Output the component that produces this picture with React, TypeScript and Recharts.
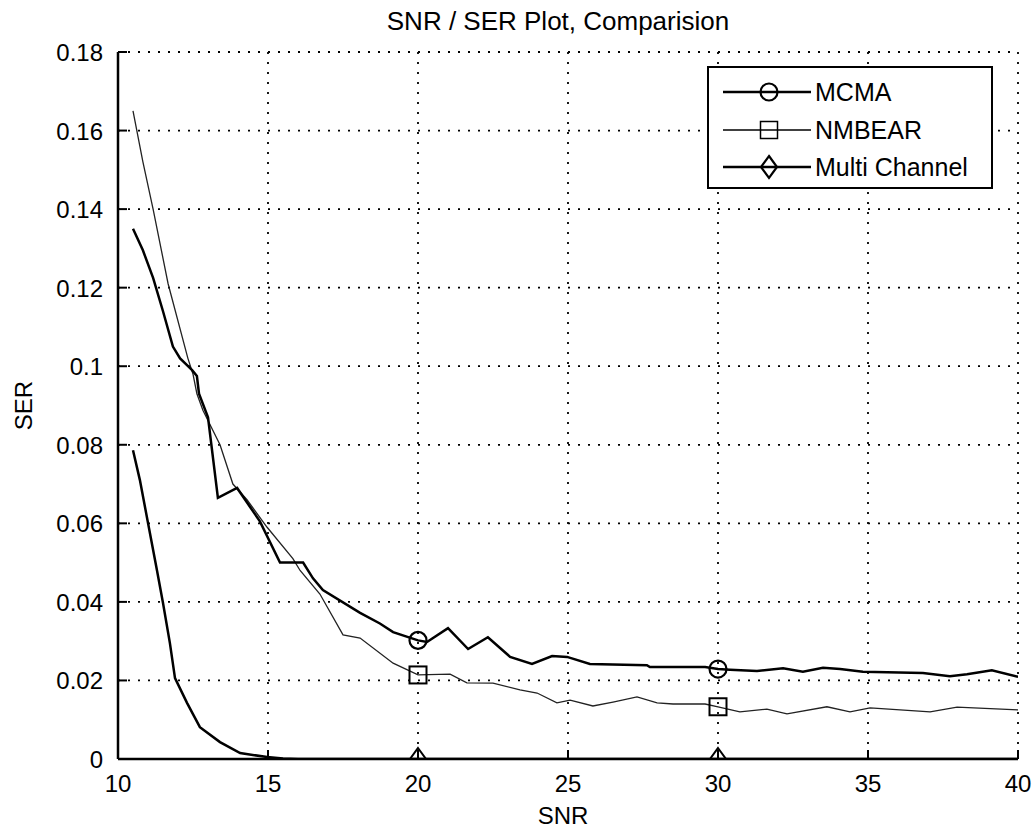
import React from 'react';
import { LineChart, Line, XAxis, YAxis, CartesianGrid, Legend } from 'recharts';

// ---------- data ----------
const mcmaX = [10.5, 10.83, 11.17, 11.5, 11.83, 12.07, 12.47, 12.63, 12.7, 13.0, 13.33, 13.97, 14.73, 15.4, 16.17, 16.5, 16.83, 18.07, 18.73, 19.17, 20, 20.3, 21, 21.67, 22.33, 23.07, 23.8, 24.47, 24.97, 25.73, 27.63, 27.73, 29.57, 30, 30.4, 31.3, 32.17, 32.83, 33.5, 34.07, 34.83, 36.83, 37.73, 38.3, 39.13, 40];
const mcmaY = [0.135, 0.1295, 0.1225, 0.114, 0.105, 0.102, 0.099, 0.0975, 0.093, 0.087, 0.0665, 0.069, 0.0605, 0.05, 0.05, 0.046, 0.043, 0.0372, 0.0345, 0.0323, 0.0302, 0.0298, 0.0333, 0.028, 0.031, 0.026, 0.0242, 0.0262, 0.026, 0.0242, 0.0239, 0.0234, 0.0234, 0.0229, 0.0227, 0.0224, 0.0231, 0.0222, 0.0232, 0.0229, 0.0222, 0.0219, 0.0211, 0.0216, 0.0226, 0.0209];

const nmbearX = [10.5, 10.83, 11.17, 11.67, 12.33, 12.5, 12.63, 12.83, 13.4, 13.83, 14.3, 14.97, 15.83, 16.07, 16.73, 17.5, 18.07, 19.17, 20, 21.07, 21.63, 22.5, 23.4, 23.97, 24.63, 25.07, 25.83, 26.5, 27.3, 27.97, 28.5, 29.57, 30, 30.73, 31.63, 32.3, 33.63, 34.4, 35.07, 37.07, 37.97, 40];
const nmbearY = [0.165, 0.152, 0.14, 0.121, 0.102, 0.098, 0.093, 0.0888, 0.08, 0.07, 0.066, 0.059, 0.051, 0.048, 0.042, 0.0316, 0.0308, 0.0244, 0.0214, 0.0216, 0.0194, 0.0193, 0.0176, 0.0168, 0.0143, 0.015, 0.0135, 0.0145, 0.0158, 0.0143, 0.014, 0.014, 0.0133, 0.012, 0.0127, 0.0115, 0.0133, 0.012, 0.013, 0.012, 0.0132, 0.0125];

const multiX = [10.5, 10.73, 11.3, 11.5, 11.73, 11.9, 12.3, 12.73, 13.4, 14.07, 14.97, 15.5, 16, 20, 30, 40];
const multiY = [0.0786, 0.071, 0.048, 0.0397, 0.0295, 0.0206, 0.0143, 0.0081, 0.0043, 0.0015, 0.0005, 0.0001, 0, 0, 0, 0];

const markerXs = [20, 30];
const xTicks = [10, 15, 20, 25, 30, 35, 40];
const yTicks = [0, 0.02, 0.04, 0.06, 0.08, 0.1, 0.12, 0.14, 0.16, 0.18];

const seriesNames = ['MCMA', 'NMBEAR', 'Multi Channel'];
const chartTitle = 'SNR / SER Plot, Comparision';
const xLabel = 'SNR';
const yLabel = 'SER';

const zip = (xs: number[], ys: number[]) => xs.map((x, i) => ({ x, y: ys[i] }));
const mcmaData = zip(mcmaX, mcmaY);
const nmbearData = zip(nmbearX, nmbearY);
const multiData = zip(multiX, multiY);

// ---------- styles ----------
const FONT = '"Liberation Sans", Arial, Helvetica, sans-serif';
const W = 1035;
const H = 830;
const TICK = 9;
const PLOT_BOTTOM = 759;

type Shape = 'circle' | 'square' | 'diamond';

const markerShape = (shape: Shape, cx: number, cy: number, sw: number, clip?: string) => {
  if (shape === 'circle') return <circle cx={cx} cy={cy} r={8.5} fill="none" stroke="#000" strokeWidth={sw} />;
  if (shape === 'square') return <rect x={cx - 8.5} y={cy - 8.5} width={17} height={17} fill="none" stroke="#000" strokeWidth={sw} />;
  return (
    <polygon
      points={`${cx},${cy - 11} ${cx + 8},${cy} ${cx},${cy + 11} ${cx - 8},${cy}`}
      fill="none"
      stroke="#000"
      strokeWidth={sw}
      clipPath={clip}
    />
  );
};

const makeDot = (shape: Shape, sw: number) => (props: any) => {
  const { cx, cy, payload, index } = props;
  if (!markerXs.includes(payload.x) || cx == null || cy == null) return <g key={`d-${index}`} />;
  const id = `mclip-${shape}-${index}`;
  return (
    <g key={`d-${index}`}>
      <defs>
        <clipPath id={id}>
          <rect x={0} y={0} width={W} height={PLOT_BOTTOM} />
        </clipPath>
      </defs>
      {markerShape(shape, cx, cy, sw, `url(#${id})`)}
    </g>
  );
};

const XBottomTick = (props: any) => {
  const { x, y, payload } = props;
  return (
    <g>
      <line x1={x} x2={x} y1={y} y2={y - TICK} stroke="#000" strokeWidth={2} />
      <text x={x} y={y + 33} textAnchor="middle" fontFamily={FONT} fontSize={24} fill="#000">
        {payload.value}
      </text>
    </g>
  );
};

const XTopTick = (props: any) => {
  const { x, y } = props;
  return <line x1={x} x2={x} y1={y} y2={y + TICK} stroke="#000" strokeWidth={2} />;
};

const YLeftTick = (props: any) => {
  const { x, y, payload } = props;
  return (
    <g>
      <line x1={x} x2={x + TICK} y1={y} y2={y} stroke="#000" strokeWidth={2} />
      <text x={x - 15} y={y + 9} textAnchor="end" fontFamily={FONT} fontSize={24} fill="#000">
        {String(+Number(payload.value).toFixed(2))}
      </text>
    </g>
  );
};

const YRightTick = (props: any) => {
  const { x, y } = props;
  return <line x1={x} x2={x - TICK} y1={y} y2={y} stroke="#000" strokeWidth={2} />;
};

const XAxisLabel = (props: any) => {
  const vb = props.viewBox || {};
  const cx = (vb.x ?? 118) + (vb.width ?? 900) / 2 - 5;
  return (
    <text x={cx} y={824} textAnchor="middle" fontFamily={FONT} fontSize={24} fill="#000">
      {xLabel}
    </text>
  );
};

// Y label plus the chart title (drawn relative to the plot box)
const YAxisLabel = (props: any) => {
  const vb = props.viewBox || {};
  const cy = (vb.y ?? 52) + (vb.height ?? 707) / 2;
  const cx = 23;
  const plotCenterX = 118 + 900 / 2 - 10;
  return (
    <g>
      <text
        x={cx}
        y={cy}
        transform={`rotate(-90, ${cx}, ${cy})`}
        textAnchor="middle"
        dominantBaseline="central"
        fontFamily={FONT}
        fontSize={24}
        fill="#000"
      >
        {yLabel}
      </text>
      <text x={plotCenterX} y={30} textAnchor="middle" fontFamily={FONT} fontSize={26} fill="#000">
        {chartTitle}
      </text>
    </g>
  );
};

const legendShapes: Shape[] = ['circle', 'square', 'diamond'];
const legendWidths = [2.5, 1.3, 2.5];

const LegendBox = () => (
  <div
    style={{
      position: 'relative',
      width: 286,
      height: 123,
      boxSizing: 'border-box',
      border: '2px solid #000',
      background: '#fff',
      fontFamily: FONT,
      fontSize: 25,
      color: '#000',
    }}
  >
    {seriesNames.map((name, i) => {
      const top = 24 + i * 37.5;
      return (
        <div key={name} style={{ position: 'absolute', left: 0, top: top - 18, height: 36, width: 282 }}>
          <svg width={104} height={36} style={{ position: 'absolute', left: 14, top: 0 }}>
            <line x1={0} x2={88} y1={18} y2={18} stroke="#000" strokeWidth={legendWidths[i]} />
            {markerShape(legendShapes[i], 46, 18, i === 1 ? 1.5 : 2.2)}
          </svg>
          <span style={{ position: 'absolute', left: 106, top: 0, lineHeight: '36px', whiteSpace: 'nowrap' }}>{name}</span>
        </div>
      );
    })}
  </div>
);

export default function App() {
  return (
    <div style={{ position: 'absolute', left: 0, top: 0, width: W, height: H, background: '#fff' }}>
      <LineChart width={W} height={H} margin={{ top: 52, right: 17, left: 0, bottom: 0 }}>
        <CartesianGrid stroke="#000" strokeWidth={1.8} strokeDasharray="2 8" />
        <XAxis
          dataKey="x"
          type="number"
          domain={[10, 40]}
          ticks={xTicks}
          allowDataOverflow
          height={71}
          tickSize={0}
          tickMargin={0}
          tick={<XBottomTick />}
          axisLine={{ stroke: '#000', strokeWidth: 2.5 }}
          tickLine={false}
          label={<XAxisLabel />}
        />
        <XAxis
          xAxisId="top"
          orientation="top"
          dataKey="x"
          type="number"
          domain={[10, 40]}
          ticks={xTicks}
          allowDataOverflow
          height={0}
          tickSize={0}
          tickMargin={0}
          tick={<XTopTick />}
          axisLine={{ stroke: '#000', strokeWidth: 2.5 }}
          tickLine={false}
        />
        <YAxis
          type="number"
          domain={[0, 0.18]}
          ticks={yTicks}
          allowDataOverflow
          width={118}
          tickSize={0}
          tickMargin={0}
          tick={<YLeftTick />}
          axisLine={{ stroke: '#000', strokeWidth: 2.5 }}
          tickLine={false}
          label={<YAxisLabel />}
        />
        <YAxis
          yAxisId="right"
          orientation="right"
          type="number"
          domain={[0, 0.18]}
          ticks={yTicks}
          allowDataOverflow
          width={0}
          tickSize={0}
          tickMargin={0}
          tick={<YRightTick />}
          axisLine={{ stroke: '#000', strokeWidth: 2.5 }}
          tickLine={false}
        />
        <Line
          data={multiData}
          dataKey="y"
          name={seriesNames[2]}
          type="linear"
          stroke="#000"
          strokeWidth={2.5}
          dot={makeDot('diamond', 2)}
          activeDot={false}
          isAnimationActive={false}
        />
        <Line
          data={nmbearData}
          dataKey="y"
          name={seriesNames[1]}
          type="linear"
          stroke="#222"
          strokeWidth={1.3}
          dot={makeDot('square', 2)}
          activeDot={false}
          isAnimationActive={false}
        />
        <Line
          data={mcmaData}
          dataKey="y"
          name={seriesNames[0]}
          type="linear"
          stroke="#000"
          strokeWidth={2.5}
          dot={makeDot('circle', 2.2)}
          activeDot={false}
          isAnimationActive={false}
        />
        <Legend
          layout="vertical"
          align="center"
          verticalAlign="middle"
          content={() => <LegendBox />}
          wrapperStyle={{ left: 707, top: 66, width: 286, height: 123 }}
        />
      </LineChart>
    </div>
  );
}
